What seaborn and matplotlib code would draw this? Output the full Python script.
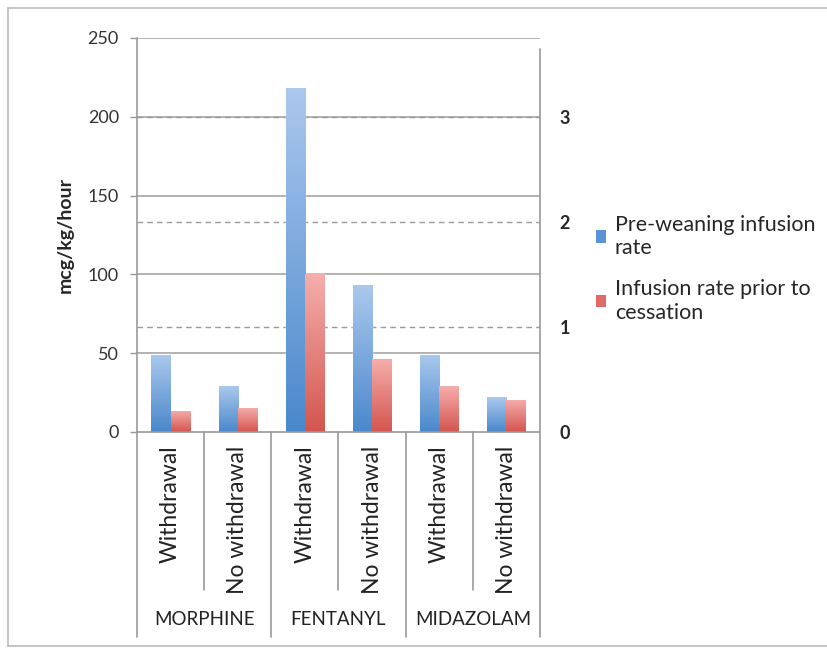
import numpy as np
import pandas as pd
import seaborn as sns
import matplotlib.pyplot as plt
from matplotlib.colors import LinearSegmentedColormap
from matplotlib.patches import Patch
from matplotlib.lines import Line2D

drugs = ["MORPHINE", "FENTANYL", "MIDAZOLAM"]
status = ["Withdrawal", "No withdrawal"]
pre_weaning = [49, 29, 218, 93, 49, 22]
prior_cessation = [13.5, 15.5, 100, 46.5, 29, 20.5]
series_names = ["Pre-weaning infusion\nrate", "Infusion rate prior to\ncessation"]
left_ticks = [0, 50, 100, 150, 200, 250]
right_ticks = [0, 1, 2, 3]

keys = [f"{d}|{s}" for d in drugs for s in status]
sub_labels = [s for d in drugs for s in status]
df = pd.DataFrame({
    "key": keys * 2,
    "value": pre_weaning + prior_cessation,
    "series": [series_names[0]] * 6 + [series_names[1]] * 6,
})

sns.set_style("white")
plt.rcParams["font.family"] = ["Lato", "DejaVu Sans"]

fig = plt.figure(figsize=(8.28, 6.48), dpi=100)
ax = fig.add_axes([137 / 828, 1 - 432 / 648, 403 / 828, 394 / 648])

blue_bot, blue_top = "#4a88cc", "#aac8ed"
red_bot, red_top = "#d4554f", "#f5aeac"

sns.barplot(data=df, x="key", y="value", hue="series", order=keys,
            hue_order=series_names, palette=[blue_bot, red_bot],
            width=0.57, ax=ax, legend=False, zorder=3)

# gradient fill on each bar
grad = np.linspace(0, 1, 100).reshape(-1, 1)
cmaps = [LinearSegmentedColormap.from_list("b", [blue_bot, blue_top]),
         LinearSegmentedColormap.from_list("r", [red_bot, red_top])]
for i, bar in enumerate(ax.patches[:12]):
    x0, y0 = bar.get_x(), bar.get_y()
    w, h = bar.get_width(), bar.get_height()
    im = ax.imshow(grad, extent=[x0, x0 + w, y0, y0 + h], origin="lower",
                   aspect="auto", cmap=cmaps[i // 6], zorder=3.5)
    im.set_clip_path(bar)

ax.set_xlim(-0.5, 5.5)
ax.set_ylim(0, 250)
ax.set_yticks(left_ticks)
ax.set_yticklabels([str(t) for t in left_ticks], fontsize=13, color="#333333")
ax.tick_params(axis="y", length=5, width=1, color="#999999", direction="out", pad=8)
ax.set_ylabel("mcg/kg/hour", fontsize=14, fontweight="bold", labelpad=10)
ax.set_xlabel("")
for t in left_ticks[1:]:
    ax.axhline(t, color="#a6a6a6", lw=1.2, zorder=1)

# secondary axis
ax2 = ax.twinx()
ax2.set_ylim(0, 394 / 105)
ax2.set_yticks(right_ticks)
ax2.set_yticklabels([str(t) for t in right_ticks], fontsize=13, fontweight="bold")
ax2.tick_params(axis="y", length=0, pad=14)
for t in right_ticks[1:]:
    ax.axhline(t * 250 / (394 / 105), color="#9a9a9a", lw=1, ls=(0, (4, 3)), zorder=1.5)

for a in (ax, ax2):
    for side in ["top", "right", "bottom", "left"]:
        a.spines[side].set_visible(False)

# axis lines
ax.plot([-0.5, -0.5], [0, 250], color="#999999", lw=1.2, clip_on=False, zorder=4)
ax.plot([5.5, 5.5], [0, 243], color="#999999", lw=1.2, clip_on=False, zorder=4)
ax.plot([-0.5, 5.5], [0, 0], color="#999999", lw=1.2, clip_on=False, zorder=4)

# category table
ax.set_xticks([])
ax2.set_xticks([])
xt = ax.get_xaxis_transform()
for i, s in enumerate(sub_labels):
    ax.text(i, -0.035, s, transform=xt, rotation=90, rotation_mode="anchor",
            ha="right", va="center", fontsize=16.5, color="#222222")
for x in [0.5, 2.5, 4.5]:
    ax.plot([x, x], [0, -0.40], color="#999999", lw=1.2, transform=xt, clip_on=False)
for x in [-0.5, 1.5, 3.5, 5.5]:
    ax.plot([x, x], [0, -0.52], color="#999999", lw=1.2, transform=xt, clip_on=False)
for i, d in enumerate(drugs):
    ax.text(2 * i + 0.5, -0.477, d, transform=xt, ha="center", va="center",
            fontsize=13.5, color="#222222")

# legend
handles = [Patch(facecolor="#5b93d6", edgecolor="none"),
           Patch(facecolor="#e06a66", edgecolor="none")]
fig.legend(handles, series_names, loc="upper left", bbox_to_anchor=(587 / 828, 1 - 206 / 648),
           frameon=False, fontsize=15.5, handlelength=0.5, handleheight=0.5,
           handletextpad=0.4, labelspacing=1.0, borderaxespad=0)

# outer frame
for xs, ys in [([8, 828], [8, 8]), ([8, 8], [8, 646]), ([8, 828], [646, 646])]:
    fig.add_artist(Line2D([x / 828 for x in xs], [1 - y / 648 for y in ys],
                          color="#bbbbbb", lw=1.2))

fig.savefig("out.png", dpi=100)
